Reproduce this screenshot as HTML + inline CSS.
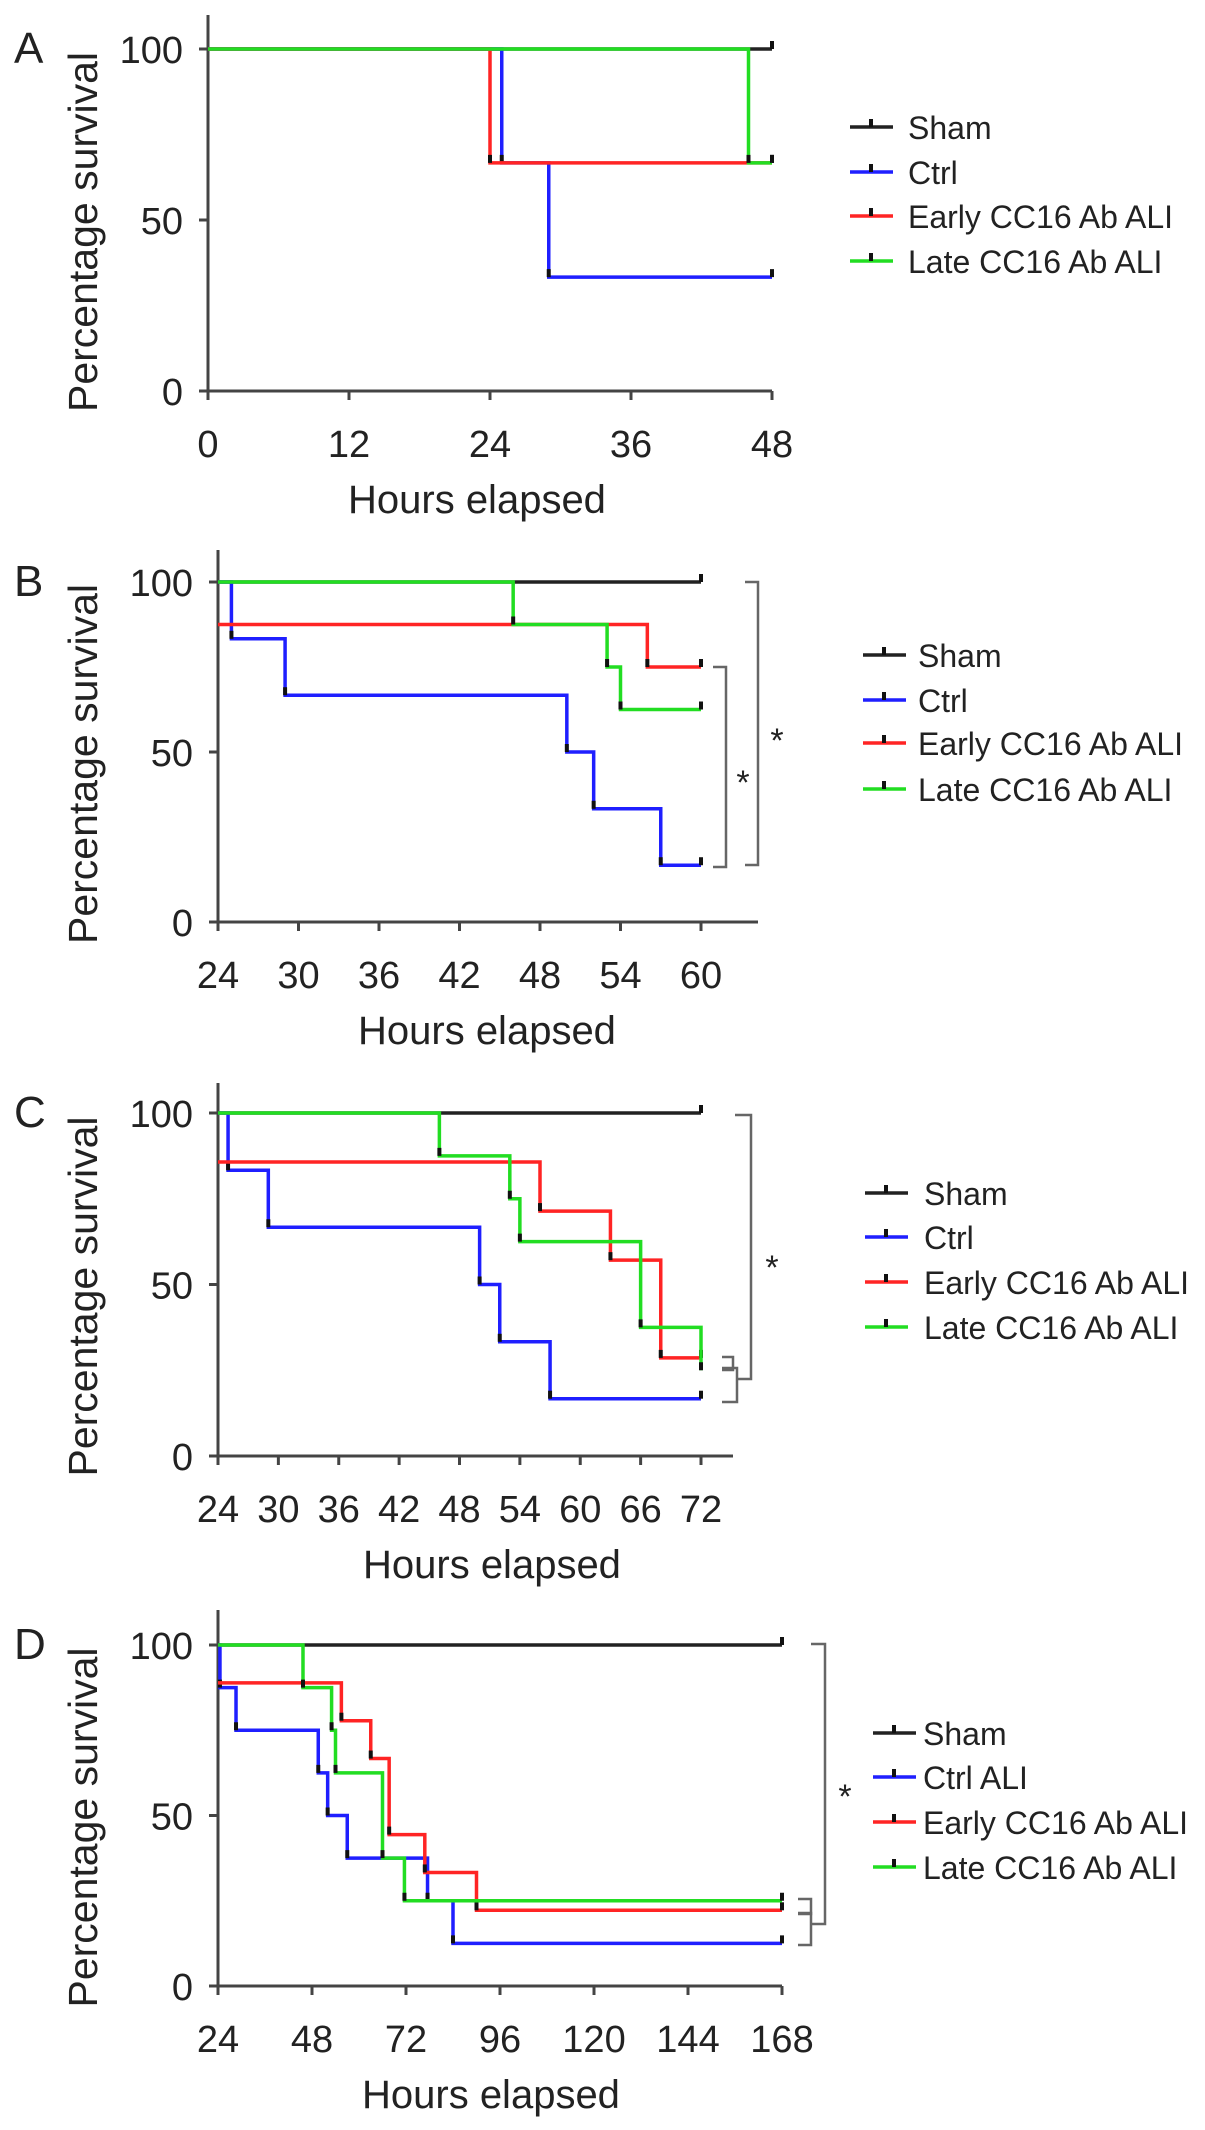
<!DOCTYPE html>
<html><head><meta charset="utf-8">
<style>
html,body{margin:0;padding:0;background:#fff;}
svg{display:block;font-family:"Liberation Sans",Arial,sans-serif;}
</style></head>
<body>
<svg id="fig" width="1205" height="2130" viewBox="0 0 1205 2130" xmlns="http://www.w3.org/2000/svg"></svg>
<script>
// ---- Data ----
const seriesNames = ["Sham","Ctrl","Early CC16 Ab ALI","Late CC16 Ab ALI"];
const seriesNamesD = ["Sham","Ctrl ALI","Early CC16 Ab ALI","Late CC16 Ab ALI"];
const colors = ["#222222","#1f1fff","#ff2424","#22dd22"];

const ticksA = [0,12,24,36,48];
const ticksB = [24,30,36,42,48,54,60];
const ticksC = [24,30,36,42,48,54,60,66,72];
const ticksD = [24,48,72,96,120,144,168];
const yTicks = [0,50,100];

// Panel A
const aShamT=[0,48], aShamS=[100,100];
const aCtrlT=[0,25,29,48], aCtrlS=[100,66.7,33.3,33.3];
const aEarlyT=[0,24,48], aEarlyS=[100,66.7,66.7];
const aLateT=[0,46,48], aLateS=[100,66.7,66.7];
// Panel B
const bShamT=[24,60], bShamS=[100,100];
const bCtrlT=[24,25,29,50,52,57,60], bCtrlS=[100,83.3,66.7,50,33.3,16.7,16.7];
const bEarlyT=[24,56,60], bEarlyS=[87.5,75,75];
const bLateT=[24,46,53,54,60], bLateS=[100,87.5,75,62.5,62.5];
// Panel C
const cShamT=[24,72], cShamS=[100,100];
const cCtrlT=[24,25,29,50,52,57,72], cCtrlS=[100,83.3,66.7,50,33.3,16.7,16.7];
const cEarlyT=[24,56,63,68,72], cEarlyS=[85.7,71.4,57.1,28.6,28.6];
const cLateT=[24,46,53,54,66,72], cLateS=[100,87.5,75,62.5,37.5,25];
// Panel D
const dShamT=[24,168], dShamS=[100,100];
const dCtrlT=[24,24.5,28.6,49.6,52,57,77.5,84,168], dCtrlS=[100,87.5,75,62.5,50,37.5,25,12.5,12.5];
const dEarlyT=[24,55.5,63,67.7,76.8,90,168], dEarlyS=[88.9,77.8,66.7,44.4,33.3,22.2,22.2];
const dLateT=[24,45.7,53,54,66,71.6,168], dLateS=[100,87.5,75,62.5,37.5,25,25];

const NS="http://www.w3.org/2000/svg";
const svg=document.getElementById('fig');
function mk(tag,attrs,parent){const e=document.createElementNS(NS,tag);for(const k in attrs)e.setAttribute(k,attrs[k]);(parent||svg).appendChild(e);return e;}

const panels=[
 {id:'a',letter:'A',x0:208,x1:772,t0:0,t1:48,y100:49,y0:391,top:15,axEnd:772,ticks:ticksA,titleX:348,
  series:[[aShamT,aShamS],[aCtrlT,aCtrlS],[aEarlyT,aEarlyS],[aLateT,aLateS]],names:seriesNames,
  leg:{x:850,tx:908,ys:[127,172,216,261]},br:[]},
 {id:'b',letter:'B',x0:218,x1:701,t0:24,t1:60,y100:582,y0:922,top:550,axEnd:758,ticks:ticksB,titleX:358,
  series:[[bShamT,bShamS],[bCtrlT,bCtrlS],[bEarlyT,bEarlyS],[bLateT,bLateS]],names:seriesNames,
  leg:{x:863,tx:918,ys:[655,700,743,789]},
  br:[{x:758,x0:745,y1:582,y2:865,sx:777,sy:740},{x:726,x0:713,y1:667,y2:867,sx:743,sy:782}]},
 {id:'c',letter:'C',x0:218,x1:701,t0:24,t1:72,y100:1113,y0:1456,top:1083,axEnd:733,ticks:ticksC,titleX:363,
  series:[[cShamT,cShamS],[cCtrlT,cCtrlS],[cEarlyT,cEarlyS],[cLateT,cLateS]],names:seriesNames,
  leg:{x:865,tx:924,ys:[1193,1237,1282,1327]},
  br:[{x:751,x0:735,y1:1115,y2:1379,sx:772,sy:1267,noBottomTick:true},{x:733,x0:722,y1:1357,y2:1370},{x:737,x0:722,y1:1368,y2:1402}]},
 {id:'d',letter:'D',x0:218,x1:782,t0:24,t1:168,y100:1645,y0:1986,top:1610,axEnd:782,ticks:ticksD,titleX:362,
  series:[[dShamT,dShamS],[dCtrlT,dCtrlS],[dEarlyT,dEarlyS],[dLateT,dLateS]],names:seriesNamesD,
  leg:{x:873,tx:923,ys:[1733,1777,1822,1867]},
  br:[{x:825,x0:811,y1:1644,y2:1924,sx:845,sy:1796,noBottomTick:true},{x:811,x0:798,y1:1899,y2:1914},{x:811,x0:798,y1:1913,y2:1945}]}
];

panels.forEach(p=>{
  const g=mk('g',{});
  
  
  const X=t=>p.x0+(t-p.t0)/(p.t1-p.t0)*(p.x1-p.x0);
  const Y=s=>p.y0+(s/100)*(p.y100-p.y0);
  const L=mk('text',{x:14,y:p.y100+14,'font-size':44,fill:'#222'},g);L.textContent=p.letter;
  
  
  const cy=(p.y0+p.y100)/2+12;
  const yt=mk('text',{x:0,y:0,'font-size':41,fill:'#222','text-anchor':'middle',transform:`translate(97,${cy}) rotate(-90)`},g);
  yt.textContent='Percentage survival';
  
  
  const ya=mk('line',{x1:p.x0,y1:p.top,x2:p.x0,y2:p.y0+8,stroke:'#444','stroke-width':3},g);
  
  
  const xa=mk('line',{x1:p.x0-8,y1:p.y0,x2:p.axEnd,y2:p.y0,stroke:'#444','stroke-width':3},g);
  
  
  yTicks.forEach(v=>{
    mk('line',{x1:p.x0-9,y1:Y(v),x2:p.x0,y2:Y(v),stroke:'#444','stroke-width':3},g);
    const t=mk('text',{x:p.x0-25,y:Y(v)+14,'font-size':38,fill:'#222','text-anchor':'end'},g);
    t.textContent=v;
    
    
  });
  p.ticks.forEach(v=>{
    mk('line',{x1:X(v),y1:p.y0,x2:X(v),y2:p.y0+9,stroke:'#444','stroke-width':3},g);
    const t=mk('text',{x:X(v),y:p.y0+66,'font-size':38,fill:'#222','text-anchor':'middle'},g);
    t.textContent=v;
    
    
  });
  const xt=mk('text',{x:p.titleX,y:p.y0+122,'font-size':40,fill:'#222'},g);
  xt.textContent='Hours elapsed';
  
  
  [0,1,2,3].forEach(i=>{
    const [T,S]=p.series[i];
    let d=`M${X(T[0])},${Y(S[0])}`;
    for(let k=1;k<T.length;k++){d+=` H${X(T[k])} V${Y(S[k])}`;}
    const path=mk('path',{d:d,fill:'none',stroke:colors[i],'stroke-width':3.5,'stroke-linejoin':'miter'},g);
    
    
    for(let k=1;k<T.length;k++){
      const m=mk('rect',{x:X(T[k])-2,y:Y(S[k])-8,width:4,height:8,fill:'#111'},g);
      
      
    }
  });
  p.names.forEach((n,i)=>{
    const lg=mk('g',{},g);
    
    
    const y=p.leg.ys[i];
    mk('line',{x1:p.leg.x,y1:y,x2:p.leg.x+43,y2:y,stroke:colors[i],'stroke-width':3.5},lg);
    mk('rect',{x:p.leg.x+19,y:y-8,width:4,height:8,fill:'#111'},lg);
    const t=mk('text',{x:p.leg.tx,y:y+12,'font-size':32,fill:'#222'},lg);
    t.textContent=n;
  });
  p.br.forEach(b=>{
    let d=`M${b.x0},${b.y1} H${b.x} V${b.y2}`+(b.noBottomTick?` H${b.x-14}`:` H${b.x0}`);
    const br=mk('path',{d:d,fill:'none',stroke:'#666','stroke-width':2.5},g);
    
    
    if(b.sx){
      const s=mk('text',{x:b.sx,y:b.sy+12,'font-size':34,fill:'#222','text-anchor':'middle'},g);
      s.textContent='*';
      
      
    }
  });
});
</script>
</body></html>
